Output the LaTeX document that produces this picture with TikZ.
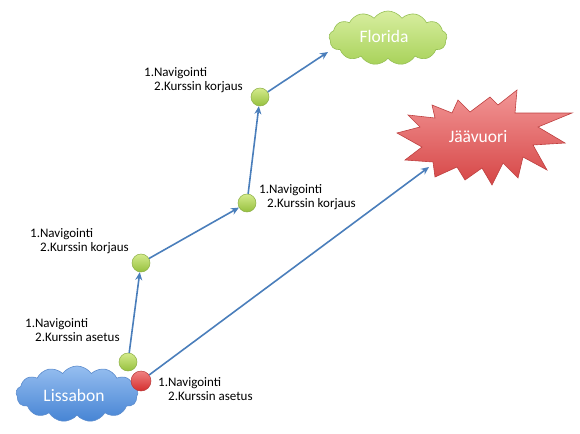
\documentclass[tikz,border=0pt]{standalone}
\usepackage{fontspec}
\setmainfont{Carlito}
\usetikzlibrary{shapes.symbols,arrows.meta}
\definecolor{arrblue}{RGB}{74,126,187}
\definecolor{bluetop}{RGB}{150,190,240}
\definecolor{bluebot}{RGB}{70,132,212}
\definecolor{blueedge}{RGB}{92,140,205}
\definecolor{greentop}{RGB}{216,238,160}
\definecolor{greenbot}{RGB}{168,210,90}
\definecolor{greenedge}{RGB}{150,192,84}
\definecolor{redtop}{RGB}{242,150,150}
\definecolor{redbot}{RGB}{214,70,70}
\definecolor{rededge}{RGB}{190,64,64}
\definecolor{balltop}{RGB}{212,235,140}
\definecolor{ballbot}{RGB}{150,192,62}
\definecolor{balledge}{RGB}{140,175,70}
\definecolor{rballtop}{RGB}{240,130,130}
\definecolor{rballbot}{RGB}{212,46,46}
\definecolor{rballedge}{RGB}{185,60,60}
\tikzset{
  cloudbox/.style={cloud, cloud puffs=13, cloud puff arc=110, aspect=2.2, inner sep=0pt, line width=0.6pt},
  bluecloud/.style={cloudbox, draw=blueedge, top color=bluetop, bottom color=bluebot},
  greencloud/.style={cloudbox, draw=greenedge, top color=greentop, bottom color=greenbot},
  gball/.style={circle, minimum size=18pt, inner sep=0pt, draw=balledge, line width=0.5pt, top color=balltop, bottom color=ballbot},
  rball/.style={circle, minimum size=20pt, inner sep=0pt, draw=rballedge, line width=0.5pt, top color=rballtop, bottom color=rballbot},
  arr/.style={draw=arrblue, line width=1.6pt, -{Stealth[length=8pt,width=7pt]}},
  lbl/.style={anchor=west, inner sep=0pt, align=left, font=\fontsize{13}{14}\selectfont},
  plain/.style={inner sep=0pt, text=white, font=\fontsize{17.5}{19}\selectfont}
}
\begin{document}
\begin{tikzpicture}[x=1pt,y=-1pt]
\useasboundingbox (0,0) rectangle (580,433);
% clouds
\node[bluecloud, minimum width=122pt, minimum height=56pt] (lis) at (77,394) {};
\node[greencloud, minimum width=118pt, minimum height=54pt] (flo) at (388,38) {};
% starburst
\path[draw=rededge, line width=0.6pt, top color=redtop, bottom color=redbot]
 (432,105) -- (452,113) -- (458,100) -- (470,112) -- (490,97) -- (498,105) -- (517,90)
 -- (515,113) -- (572,113) -- (538,127) -- (565,143) -- (533,145) -- (547,170)
 -- (523,157) -- (518,178) -- (503,163) -- (492,185) -- (482,168) -- (465,180)
 -- (457,167) -- (435,177) -- (433,162) -- (405,160) -- (422,147) -- (397,133)
 -- (420,127) -- (408,115) -- (435,118) -- cycle;
\node[plain] (jv) at (478,137) {Jäävuori};
\node[plain] (list) at (74,395) {Lissabon};
\node[plain] (flot) at (384,36) {Florida};
\coordinate (jvtip) at (429,167);
\coordinate (flotip) at (328,52);
% balls
\node[gball] (g1) at (128,362) {};
\node[rball] (r) at (141,381) {};
\node[gball] (g2) at (141,263) {};
\node[gball] (g3) at (247,203) {};
\node[gball] (g4) at (260,97) {};
% arrows
\draw[arr] (g1) -- (g2);
\draw[arr] (g2) -- (g3);
\draw[arr] (g3) -- (g4);
\draw[arr] (g4) -- (flotip);
\draw[arr] (r) -- (jvtip);
% labels
\node[lbl] (l4) at (144,80) {1.Navigointi\\\hspace*{10pt}2.Kurssin korjaus};
\node[lbl] (l3) at (259,197) {1.Navigointi\\\hspace*{8pt}2.Kurssin korjaus};
\node[lbl] (l2) at (30,241) {1.Navigointi\\\hspace*{10pt}2.Kurssin korjaus};
\node[lbl] (l1) at (25,330) {1.Navigointi\\\hspace*{10pt}2.Kurssin asetus};
\node[lbl] (lr) at (158,389) {1.Navigointi\\\hspace*{10pt}2.Kurssin asetus};
\end{tikzpicture}
\end{document}
